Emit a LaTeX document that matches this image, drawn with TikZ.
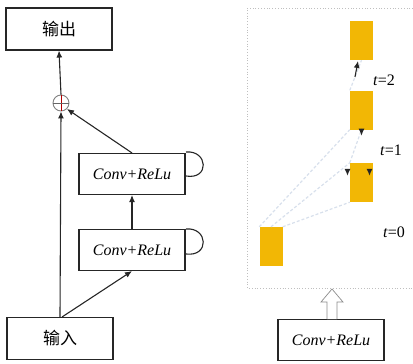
\documentclass[tikz,border=0pt]{standalone}
\usepackage{fontspec}
\setmainfont{Liberation Serif}
\newfontfamily\cjk{Noto Sans CJK SC}
\usetikzlibrary{arrows.meta}
\definecolor{gold}{HTML}{F2B705}
\definecolor{faint}{HTML}{D8E0EC}
\begin{document}
\begin{tikzpicture}[x=1pt,y=-1pt,
  box/.style={draw=black!85,line width=1.1pt,minimum width=106pt,minimum height=42pt,inner sep=0pt,fill=white},
  cbox/.style={draw=black!85,line width=1.1pt,minimum width=106pt,minimum height=41pt,inner sep=0pt,font=\itshape\fontsize{16}{16}\selectfont},
  blk/.style={fill=gold,draw=none,minimum width=23pt,minimum height=39pt,inner sep=0pt},
  arr/.style={-{Latex[length=7pt,width=6pt]},line width=1.1pt,black!85},
  lab/.style={font=\fontsize{16}{16}\selectfont,inner sep=0pt},
  fl/.style={faint,line width=1.2pt,dash pattern=on 3pt off 2pt}]
\useasboundingbox (0,0) rectangle (413,364);
% left
\node[box,font=\cjk\fontsize{17}{17}\selectfont] (out) at (59,29) {输出};
\node[box,font=\cjk\fontsize{17}{17}\selectfont] (in) at (60,338.5) {输入};
\node[cbox] (c2) at (132,174) {Conv+ReLu};
\node[cbox] (c1) at (132,250) {Conv+ReLu};
\node[circle,draw=black!50,line width=0.9pt,minimum size=16pt,inner sep=0pt] (plus) at (61,103) {};
\draw[red!70!black,line width=0.7pt] (plus.north) -- (plus.south);
\draw[black!60,line width=0.7pt] (plus.west) -- (plus.east);
\coordinate (inl) at (60,317);
\coordinate (inr) at (62,317);
\draw[arr] (inl) -- (plus.south);
\draw[arr] (plus.north) -- (out.south);
\draw[arr] (inr) -- (c1.south);
\draw[arr] (c1.north) -- (c2.south);
\draw[arr] (c2.north) -- (plus.south east);
\coordinate (l2a) at (186,152);
\coordinate (l2b) at (186,176);
\draw[line width=1.1pt,black!85] (l2a) .. controls (208,150) and (210,180) .. (l2b);
\coordinate (l1a) at (186,229);
\coordinate (l1b) at (186,254);
\draw[line width=1.1pt,black!85] (l1a) .. controls (208,227) and (210,257) .. (l1b);
% right
\coordinate (fa) at (247,8);
\coordinate (fb) at (247,288);
\coordinate (fc) at (413,288);
\coordinate (fd) at (413,8);
\draw[black!25,line width=0.8pt,dotted] (fd) -- (fa) -- (fb) -- (fc);
\node[blk] (b3) at (361.5,40.5) {};
\node[blk] (b2) at (361.5,110) {};
\node[blk] (b1) at (361.5,182.5) {};
\node[blk] (b0) at (271,246.5) {};
\draw[fl] (b0.north) -- (b1.north west);
\draw[fl] (b0.north east) -- (b1.south west);
\draw[fl] (b0.north west) -- (b2.south west);
\draw[fl] (b1.north west) -- (b2.south);
\draw[fl] (b2.north west) -- (b3.south);
\coordinate (a3s) at (355,77);
\coordinate (a3e) at (358,61);
\draw[arr] (a3s) -- (a3e);
\draw[arr] ([yshift=1pt]b2.south) -- ++(0,7);
\draw[arr] ([shift={(-14pt,-6pt)}]b1.north) -- ++(0,7);
\draw[arr] ([shift={(8pt,-6pt)}]b1.north) -- ++(0,7);
\node[lab] (t2) at (384,80) {\textit{t}=2};
\node[lab] (t1) at (391,150) {\textit{t}=1};
\node[lab] (t0) at (394,232) {\textit{t}=0};
\node[cbox] (c3) at (331,340) {Conv+ReLu};
\coordinate (h1) at (327,319);
\coordinate (h2) at (327,302);
\coordinate (h3) at (321,302);
\coordinate (ha) at (332,289);
\coordinate (h4) at (343,302);
\coordinate (h5) at (337,302);
\coordinate (h6) at (337,319);
\draw[black!45,line width=0.7pt,fill=white] (h1) -- (h2) -- (h3) -- (ha) -- (h4) -- (h5) -- (h6);
\end{tikzpicture}
\end{document}
